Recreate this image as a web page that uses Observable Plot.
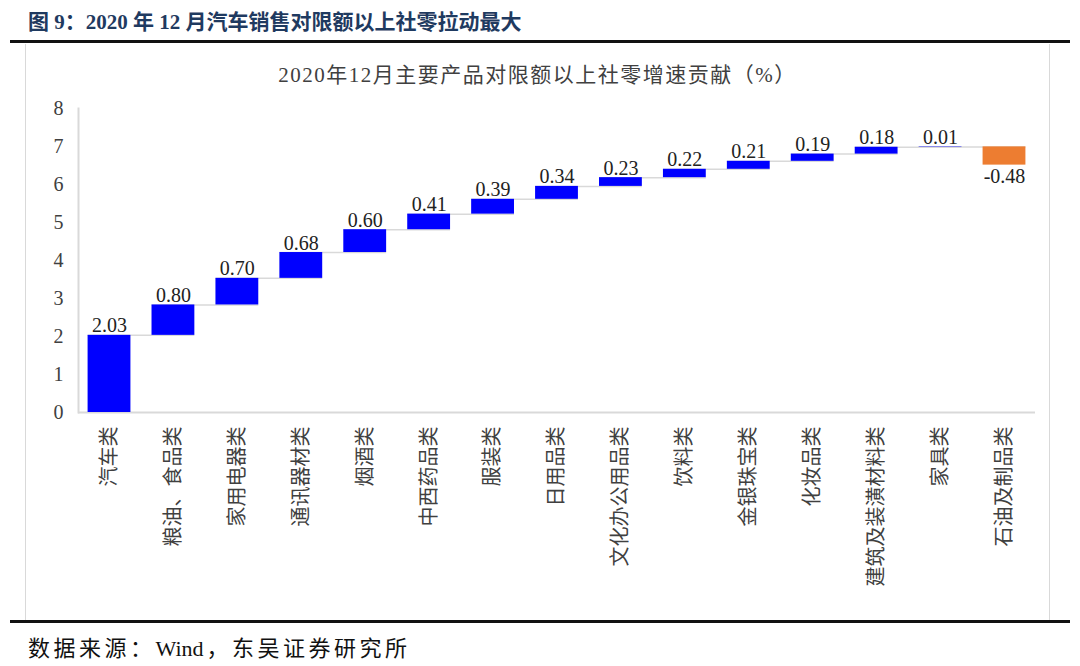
<!DOCTYPE html>
<html><head><meta charset="utf-8">
<script src="https://cdn.jsdelivr.net/npm/d3@7"></script>
<script src="https://cdn.jsdelivr.net/npm/@observablehq/plot@0.6"></script>
<style>
html,body{margin:0;padding:0;background:#fff;}
#wrap{position:relative;width:1080px;height:666px;overflow:hidden;}
#hdr{position:absolute;left:28px;top:5px;font:bold 21px 'Liberation Serif','Noto Sans CJK SC',serif;color:#1f3a60;white-space:nowrap;}
.thick{position:absolute;left:10px;width:1060px;height:3px;background:#111;}
#box{position:absolute;left:25px;top:44px;width:1025px;height:576px;border-left:1px solid #d9d9d9;border-right:1px solid #d9d9d9;box-sizing:border-box;}
#ttl{position:absolute;left:25px;top:58px;width:1025px;text-align:center;font:21px 'Liberation Serif','Noto Sans CJK SC',serif;letter-spacing:1.5px;color:#404040;white-space:nowrap;}
#chart{position:absolute;left:25px;top:45px;}
#src{position:absolute;left:28px;top:630px;font:22px 'Liberation Serif','Noto Sans CJK SC',serif;letter-spacing:3.5px;color:#111;white-space:nowrap;}
#src .lat{letter-spacing:0;margin-right:3px;}
</style></head>
<body>
<div id="wrap">
  <div id="hdr">图 9：2020 年 12 月汽车销售对限额以上社零拉动最大</div>
  <div class="thick" style="top:40px"></div>
  <div id="box"></div>
  <div id="chart"></div>
  <div id="ttl">2020年12月主要产品对限额以上社零增速贡献（%）</div>
  <div class="thick" style="top:620px"></div>
  <div id="src">数据来源：<span class="lat">Wind</span>，东吴证券研究所</div>
</div>
<script>
const categories = ["汽车类","粮油、食品类","家用电器类","通讯器材类","烟酒类","中西药品类","服装类","日用品类","文化办公用品类","饮料类","金银珠宝类","化妆品类","建筑及装潢材料类","家具类","石油及制品类"];
const values = [2.03,0.80,0.70,0.68,0.60,0.41,0.39,0.34,0.23,0.22,0.21,0.19,0.18,0.01,-0.48];
const yTicks = [0,1,2,3,4,5,6,7,8];

let acc = 0;
const rows = categories.map((c,i) => {
  const start = acc; acc += values[i];
  return {cat:c, v:values[i], start, end:acc, top:Math.max(start,acc), bottom:Math.min(start,acc)};
});
const links = rows.slice(0,-1).map((r,i) => ({a:r.cat, b:rows[i+1].cat, y:r.end}));
const serif = "'Liberation Serif','Noto Sans CJK SC',serif";

const chart = Plot.plot({
  width: 1025, height: 575,
  marginLeft: 53, marginRight: 15, marginTop: 63, marginBottom: 208,
  x: {domain: categories, paddingInner: 0.33, paddingOuter: 0.15, round: false, label: null},
  y: {domain: [0,8], label: null},
  style: {fontFamily: serif, fontSize: "20px", color: "#404040", background: "transparent"},
  marks: [
    Plot.frame({anchor: "left", stroke: "#d9d9d9", strokeWidth: 2}),
    Plot.ruleY([0], {stroke: "#d9d9d9", strokeWidth: 2}),
    Plot.axisY({ticks: yTicks, tickSize: 0, tickPadding: 15, fontSize: 20, fontFamily: serif, label: null}),
    Plot.axisX({tickSize: 0, tickPadding: 14, tickRotate: -90, fontSize: 20, fontFamily: "'Noto Sans CJK SC',sans-serif", label: null}),
    Plot.ruleY(links, {x1: "a", x2: "b", y: "y", stroke: "#d9d9d9", strokeWidth: 1.5}),
    Plot.barY(rows, {x: "cat", y1: "start", y2: "end", fill: d => d.v < 0 ? "#ed7d31" : "#0000ff"}),
    Plot.text(rows.filter(d => d.v >= 0), {x: "cat", y: "top", text: d => d.v.toFixed(2), lineAnchor: "bottom", dy: -3, fontSize: 20, fill: "#222"}),
    Plot.text(rows.filter(d => d.v < 0), {x: "cat", y: "bottom", text: d => d.v.toFixed(2), lineAnchor: "top", dy: 4, fontSize: 20, fill: "#222"})
  ]
});
document.getElementById("chart").appendChild(chart);
</script>
</body></html>
